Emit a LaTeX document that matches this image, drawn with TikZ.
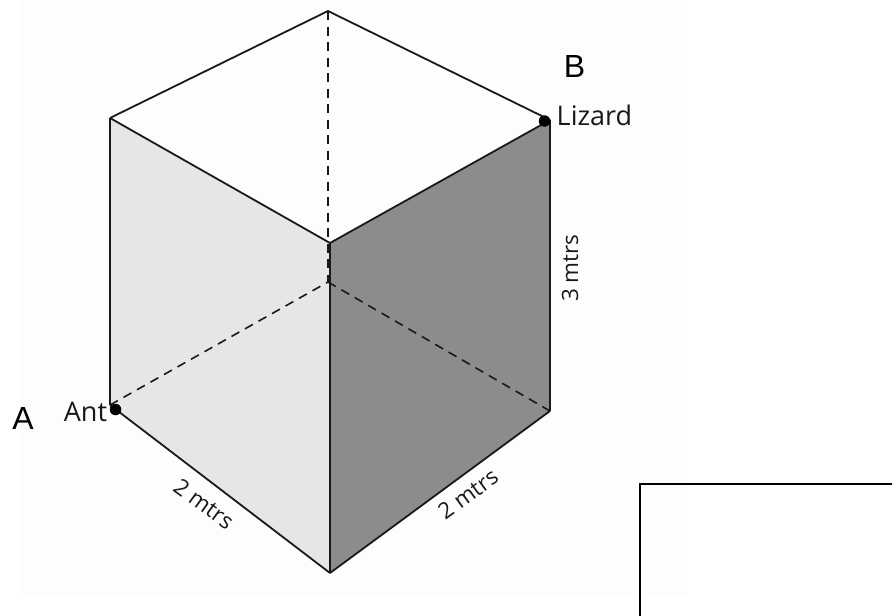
\documentclass[tikz,border=0pt]{standalone}
\usepackage{fontspec}
\setmainfont{Open Sans}
\newfontfamily\arialfont{Liberation Sans}
\definecolor{lightface}{HTML}{E6E6E6}
\definecolor{darkface}{HTML}{8C8C8C}
\definecolor{paperback}{HTML}{FDFDFD}
\tikzset{
  edgeline/.style={draw=black!90,line width=1.8pt,line join=round},
  hiddenline/.style={draw=black!90,line width=1.6pt,dash pattern=on 9pt off 6.5pt},
  dotmark/.style={circle,fill=black,inner sep=0pt,minimum size=11.5pt},
  cubelabel/.style={inner sep=0pt,text=black!90,font=\fontsize{27}{30}\selectfont},
  letterlabel/.style={inner sep=0pt,text=black,font=\arialfont\fontsize{32}{35}\selectfont},
  dimlabel/.style={inner sep=0pt,text=black!90,font=\fontsize{22.5}{26}\selectfont}
}
\begin{document}
\begin{tikzpicture}[x=1pt,y=-1pt]
\useasboundingbox (0,0) rectangle (892,616);
\fill[paperback] (19,0) rectangle (688,595);
\coordinate (T) at (328,11);
\coordinate (L) at (110,118);
\coordinate (C) at (330,243);
\coordinate (R) at (550,120);
\coordinate (LB) at (110,405);
\coordinate (RB) at (550,411);
\coordinate (B) at (330,573);
\coordinate (H) at (328,282);
\fill[lightface] (L) -- (C) -- (B) -- (LB) -- cycle;
\fill[darkface] (C) -- (R) -- (RB) -- (B) -- cycle;
\draw[hiddenline] (T) -- (H);
\draw[hiddenline] (LB) -- (H);
\draw[hiddenline] (H) -- (RB);
\draw[edgeline] (T) -- (L);
\draw[edgeline] (T) -- (R);
\draw[edgeline] (L) -- (C);
\draw[edgeline] (R) -- (C);
\draw[edgeline] (C) -- (B);
\draw[edgeline] (L) -- (LB);
\draw[edgeline] (R) -- (RB);
\draw[edgeline] (LB) -- (B);
\draw[edgeline] (RB) -- (B);
\node[dotmark] (antdot) at (115.5,409.5) {};
\node[dotmark] (lizdot) at (544.5,121) {};
\node[letterlabel] (a) at (23,418.5) {A};
\node[letterlabel] (b) at (574.5,66) {B};
\node[cubelabel] (ant) at (85.5,412) {Ant};
\node[cubelabel] (liz) at (594.5,115) {Lizard};
\node[dimlabel,rotate=90] (h3) at (570,268) {3 mtrs};
\node[dimlabel,rotate=-36] (d1) at (204,504) {2 mtrs};
\node[dimlabel,rotate=36] (d2) at (468,494) {2 mtrs};
\draw[line width=2pt] (640,616) -- (640,484) -- (892,484);
\end{tikzpicture}
\end{document}
